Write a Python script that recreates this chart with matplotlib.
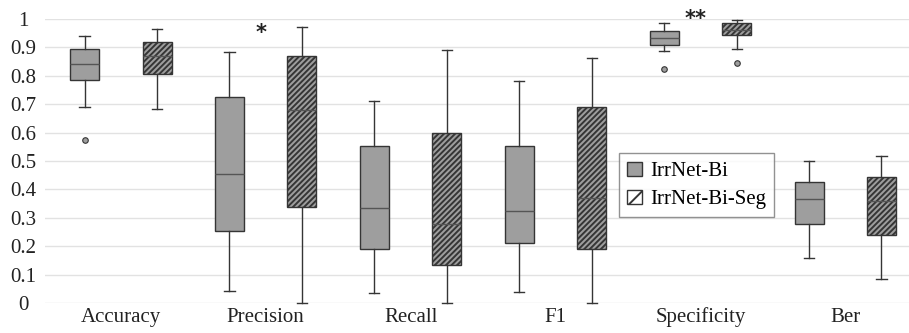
import matplotlib
matplotlib.use("Agg")
import matplotlib.pyplot as plt
from matplotlib.patches import Patch
import numpy as np

plt.rcParams['font.family'] = ['Liberation Serif', 'DejaVu Serif']
plt.rcParams['hatch.linewidth'] = 1.4

metrics = ["Accuracy", "Precision", "Recall", "F1", "Specificity", "Ber"]
series = ["IrrNet-Bi", "IrrNet-Bi-Seg"]

# five-number summaries: whislo, q1, med, q3, whishi
bi_low = [0.688, 0.045, 0.036, 0.039, 0.886, 0.161]
bi_q1 = [0.784, 0.255, 0.190, 0.213, 0.907, 0.279]
bi_med = [0.840, 0.454, 0.335, 0.325, 0.933, 0.367]
bi_q3 = [0.895, 0.726, 0.553, 0.554, 0.955, 0.427]
bi_high = [0.940, 0.883, 0.710, 0.780, 0.985, 0.501]
bi_fliers = [[0.574], [], [], [], [0.822], []]

seg_low = [0.682, 0.0, 0.0, 0.0, 0.895, 0.086]
seg_q1 = [0.806, 0.340, 0.135, 0.190, 0.941, 0.239]
seg_med = [0.870, 0.679, 0.280, 0.369, 0.960, 0.360]
seg_q3 = [0.918, 0.868, 0.597, 0.688, 0.983, 0.443]
seg_high = [0.964, 0.969, 0.890, 0.862, 0.996, 0.519]
seg_fliers = [[], [], [], [], [0.843], []]

marks = {"Precision": "*", "Specificity": "**"}
mark_y = {"Precision": 0.948, "Specificity": 1.0}


def make_stats(lo, q1, med, q3, hi, fl):
    return [dict(whislo=a, q1=b, med=c, q3=d, whishi=e, fliers=f)
            for a, b, c, d, e, f in zip(lo, q1, med, q3, hi, fl)]


fig = plt.figure(figsize=(9.09, 3.33), dpi=100)
ax = fig.add_axes([0.05, 0.089, 0.95, 0.855])

x = np.arange(len(metrics))
off = 0.25
edge = '#353535'
face = '#9e9e9e'

for stats, pos, hatch in [
        (make_stats(bi_low, bi_q1, bi_med, bi_q3, bi_high, bi_fliers), x - off, None),
        (make_stats(seg_low, seg_q1, seg_med, seg_q3, seg_high, seg_fliers), x + off, '//////')]:
    bp = ax.bxp(stats, positions=pos, widths=0.2, patch_artist=True,
                boxprops=dict(facecolor=face, edgecolor=edge, linewidth=1.0),
                medianprops=dict(color='#555555', linewidth=1.0),
                whiskerprops=dict(color=edge, linewidth=1.0),
                capprops=dict(color=edge, linewidth=1.0),
                flierprops=dict(marker='o', markersize=4, markerfacecolor='#9e9e9e',
                                markeredgecolor=edge, markeredgewidth=0.8),
                capwidths=0.07, manage_ticks=False)
    for b in bp['boxes']:
        if hatch:
            b.set_hatch(hatch)
    for art in bp['whiskers'] + bp['caps']:
        art.set_clip_on(False)

for name, s in marks.items():
    i = metrics.index(name)
    ax.text(x[i] - 0.03, mark_y[name], s, ha='center', va='center', fontsize=15,
            fontweight='bold', color='#222222', family='DejaVu Sans')

ax.set_xlim(-0.52, 5.44)
ax.set_ylim(0, 1)
ax.set_yticks(np.arange(0, 1.01, 0.1))
ax.set_yticklabels(['0'] + ['%.1f' % v for v in np.arange(0.1, 0.95, 0.1)] + ['1'])
ax.set_xticks(x)
ax.set_xticklabels(metrics)
ax.tick_params(axis='both', length=0, labelsize=15, colors='#222222')
ax.tick_params(axis='y', pad=16)
ax.tick_params(axis='x', pad=3)
for lbl in ax.get_yticklabels():
    lbl.set_horizontalalignment('center')
ax.grid(axis='y', color='#e2e2e2', linewidth=1.0)
ax.set_axisbelow(True)
for sp in ax.spines.values():
    sp.set_visible(False)

handles = [Patch(facecolor=face, edgecolor=edge, label=series[0]),
           Patch(facecolor='white', edgecolor=edge, hatch='//', label=series[1])]
ax.legend(handles=handles, loc='upper left', bbox_to_anchor=(0.664, 0.527),
          fontsize=15, frameon=True, fancybox=False, edgecolor='#777777',
          handlelength=0.7, handleheight=0.7, handletextpad=0.4, borderpad=0.4,
          labelspacing=0.4, borderaxespad=0)

fig.savefig('out.png', dpi=100)
